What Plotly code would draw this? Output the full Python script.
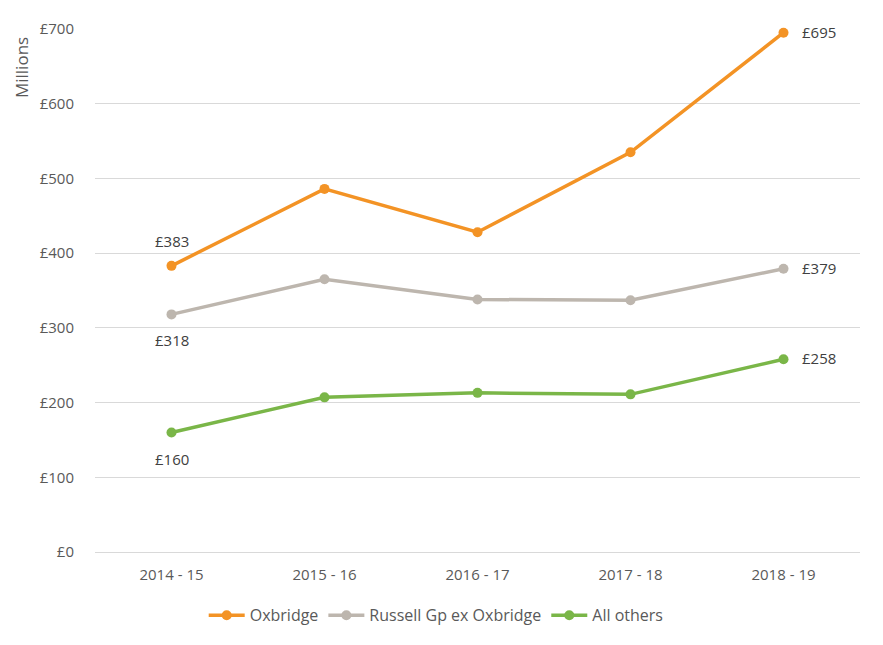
import plotly.graph_objects as go

years = ["2014 - 15", "2015 - 16", "2016 - 17", "2017 - 18", "2018 - 19"]
oxbridge = [383, 486, 428, 535, 695]
russell = [318, 365, 338, 337, 379]
others = [160, 207, 213, 211, 258]

names = ["Oxbridge", "Russell Gp ex Oxbridge", "All others"]
colors = ["#F39325", "#BDB6AE", "#7AB648"]
first_shift = [25, -26, -27]

fig = go.Figure()
for name, vals, col in zip(names, [oxbridge, russell, others], colors):
    fig.add_trace(go.Scatter(
        x=years, y=vals, name=name, mode="lines+markers",
        line=dict(color=col, width=3.5),
        marker=dict(color=col, size=10),
        cliponaxis=False,
    ))

label_font = dict(size=15, color="#404040", family="Open Sans, Noto Sans, sans-serif")
for vals, sh in zip([oxbridge, russell, others], first_shift):
    fig.add_annotation(x=years[0], y=vals[0], xref="x", yref="y", text=f"£{vals[0]}",
                       showarrow=False, yshift=sh, font=label_font)
    fig.add_annotation(x=years[-1], y=vals[-1], xref="x", yref="y", text=f"£{vals[-1]}",
                       showarrow=False, xanchor="left", xshift=16, yshift=1, font=label_font)

fig.update_layout(
    width=883, height=645,
    margin=dict(l=95, r=23, t=29, b=93),
    plot_bgcolor="white", paper_bgcolor="white",
    font=dict(family="Open Sans, Noto Sans, sans-serif", size=15, color="#595959"),
    showlegend=True,
    legend=dict(orientation="h", xref="container", yref="container",
                x=0.494, xanchor="center", y=0.046, yanchor="middle",
                font=dict(size=16, color="#595959"), traceorder="normal",
                itemwidth=36),
    xaxis=dict(range=[-0.5, 4.5], showgrid=False, showline=False, ticks="",
               ticklabelstandoff=12,
               tickfont=dict(size=15, color="#595959")),
    yaxis=dict(range=[0, 700], dtick=100, tickprefix="£", showgrid=True,
               gridcolor="#D9D9D9", gridwidth=1.3, zeroline=True, zerolinecolor="#D9D9D9",
               zerolinewidth=1.3, showline=False, ticks="", ticklabelstandoff=20,
               tickfont=dict(size=15, color="#595959")),
)
fig.add_annotation(text="Millions", xref="paper", yref="paper", x=-0.097, y=0.989,
                   xanchor="center", yanchor="top", textangle=-90, showarrow=False,
                   font=dict(size=17, color="#595959"))

fig.write_html("out.html", post_script="document.body.style.margin='0';",
               config={"displayModeBar": False})
